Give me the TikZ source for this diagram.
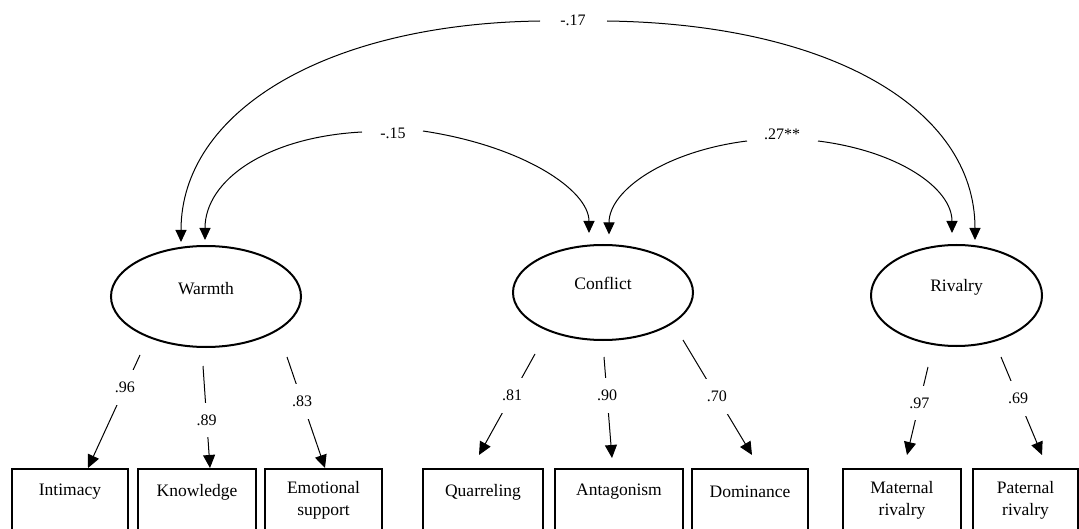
\documentclass[tikz,border=0pt]{standalone}
\usepackage{fontspec}
\setmainfont{Liberation Serif}
\usetikzlibrary{arrows.meta,calc,shapes.geometric}
\begin{document}
\begin{tikzpicture}[x=1pt,y=-1pt,
  latent/.style={draw, line width=2pt, ellipse, inner sep=0pt},
  obs/.style={draw, line width=2pt, rectangle, anchor=north, minimum height=100pt, inner sep=0pt},
  vartext/.style={font=\fontsize{17.5}{22}\selectfont, align=center, inner sep=0pt},
  num/.style={font=\fontsize{16}{19}\selectfont, inner sep=0pt},
  gapnum/.style={num, fill=white, inner xsep=3pt, inner ysep=12pt},
  load/.style={line width=1pt, -{Triangle[length=13pt,width=12pt]}},
  cov/.style={line width=1pt, -{Triangle[length=12pt,width=11pt]}}]
\useasboundingbox (0,0) rectangle (1079,529);
\clip (0,0) rectangle (1079,529);

% latent factors
\node[latent, minimum width=190pt, minimum height=101pt] (warmth) at (206,296.5) {};
\node[latent, minimum width=180pt, minimum height=95pt] (conflict) at (603,292.5) {};
\node[latent, minimum width=171pt, minimum height=101pt] (rivalry) at (956.5,295.5) {};
\node[vartext] (tw) at ($(warmth.center)+(0,-7.5)$) {Warmth};
\node[vartext] (tc) at ($(conflict.center)+(0,-9.5)$) {Conflict};
\node[vartext] (tr) at ($(rivalry.center)+(0,-8.5)$) {Rivalry};

% observed indicators
\node[obs, minimum width=116pt] (intimacy) at (70,468) {};
\node[obs, minimum width=118pt] (knowledge) at (197,468) {};
\node[obs, minimum width=117pt] (emotional) at (323.5,468) {};
\node[obs, minimum width=120pt] (quarrel) at (483,468) {};
\node[obs, minimum width=128pt] (antag) at (619,468) {};
\node[obs, minimum width=116pt] (domin) at (750,468) {};
\node[obs, minimum width=118pt] (matern) at (902,468) {};
\node[obs, minimum width=105pt] (patern) at (1025.5,468) {};

\node[vartext] (ti) at ($(intimacy.north)+(0,24)$) {Intimacy};
\node[vartext] (tk) at ($(knowledge.north)+(0,24)$) {Knowledge};
\node[vartext] (te) at ($(emotional.north)+(0,32)$) {Emotional\\support};
\node[vartext] (tq) at ($(quarrel.north)+(0,24)$) {Quarreling};
\node[vartext] (ta) at ($(antag.north)+(0,24)$) {Antagonism};
\node[vartext] (td) at ($(domin.north)+(0,24)$) {Dominance};
\node[vartext] (tm) at ($(matern.north)+(0,32)$) {Maternal\\rivalry};
\node[vartext] (tp) at ($(patern.north)+(0,32)$) {Paternal\\rivalry};

% factor loadings
\draw[load] ($(warmth.center)+(-66,58.5)$) -- node[gapnum, pos=0.29] {.96} ($(intimacy.north)+(18,0)$);
\draw[load] ($(warmth.center)+(-3,69.5)$) -- node[gapnum, pos=0.53] {.89} ($(knowledge.north)+(13,0)$);
\draw[load] ($(warmth.center)+(81,60.5)$) -- node[gapnum, pos=0.40] {.83} ($(emotional.north)+(1.5,0)$);
\draw[load] ($(conflict.center)+(-68,61.5)$) -- node[gapnum, pos=0.41] {.81} ($(quarrel.north)+(-4,-13)$);
\draw[load] ($(conflict.center)+(1,64.5)$) -- node[gapnum, pos=0.38] {.90} ($(antag.north)+(-7,-10)$);
\draw[load] ($(conflict.center)+(80,47.5)$) -- node[gapnum, pos=0.49] {.70} ($(domin.north)+(2,-13)$);
\draw[load] ($(rivalry.center)+(-28.5,71.5)$) -- node[gapnum, pos=0.41] {.97} ($(matern.north)+(5,-13)$);
\draw[load] ($(rivalry.center)+(44.5,61.5)$) -- node[gapnum, pos=0.42] {.69} ($(patern.north)+(16.5,-13)$);

% factor covariances
\node[num] (c17) at (573,20) {-.17};
\node[num] (c15) at (393,133) {-.15};
\node[num] (c27) at (782,134) {.27**};

\draw[cov] ($(c17.center)+(-33,1)$) .. controls +(-215,3) and +(0,-130) .. ($(warmth.center)+(-25,-54.5)$);
\draw[cov] ($(c17.center)+(34,1)$) .. controls +(222,3) and +(0,-132) .. ($(rivalry.center)+(18.5,-55.5)$);
\draw[cov] ($(c15.center)+(-31,-1)$) .. controls +(-95,5) and +(0,-60) .. ($(warmth.center)+(-1,-56.5)$);
\draw[cov] ($(c15.center)+(30,-2)$) .. controls +(100,15) and +(0,-43) .. ($(conflict.center)+(-14,-59.5)$);
\draw[cov] ($(c27.center)+(-35,7)$) .. controls +(-80,10) and +(0,-45) .. ($(conflict.center)+(6,-58)$);
\draw[cov] ($(c27.center)+(36,7)$) .. controls +(80,10) and +(0,-45) .. ($(rivalry.center)+(-4.5,-62.5)$);
\end{tikzpicture}
\end{document}
